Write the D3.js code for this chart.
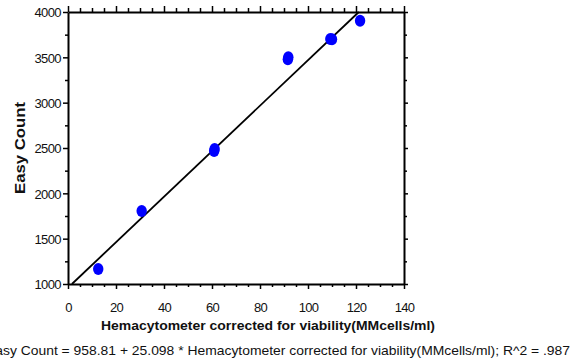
<!DOCTYPE html>
<html><head><meta charset="utf-8">
<script src="https://cdn.jsdelivr.net/npm/d3@7"></script>
<style>
body{margin:0;background:#fff;}
svg{display:block;font-family:"Liberation Sans",Arial,sans-serif;}
</style></head>
<body>
<svg id="c" width="579" height="362"></svg>
<script>
// Data
const xValues = [12.6, 30.7, 60.9, 61.1, 91.6, 91.8, 109.3, 110.0, 121.7];
const yValues = [1165, 1805, 2468, 2488, 3480, 3502, 3702, 3700, 3903];
const xTicks = [0, 20, 40, 60, 80, 100, 120, 140];
const yTicks = [1000, 1500, 2000, 2500, 3000, 3500, 4000];
const fitIntercept = 958.81, fitSlope = 25.098;
const xTitle = "Hemacytometer corrected for viability(MMcells/ml)";
const yTitle = "Easy Count";
const caption = "Easy Count = 958.81 + 25.098 * Hemacytometer corrected for viability(MMcells/ml); R^2 = .987";

const svg = d3.select("#c");
const L = 68, R = 404, T = 12, B = 284;
const x = d3.scaleLinear().domain([0, 140]).range([L, R]);
const y = d3.scaleLinear().domain([1000, 4000]).range([B, T]);

const minorX = d3.range(0, 141, 5).filter(v => v % 20 !== 0);
const minorY = d3.range(1000, 4001, 250).filter(v => v % 500 !== 0);

function styleAxis(g){
  g.selectAll("path.domain").attr("stroke", "#000").attr("stroke-width", 2);
  g.selectAll(".tick line").attr("stroke", "#000").attr("stroke-width", 1.5);
}
// bottom
const gb = svg.append("g").attr("transform", `translate(0,${B})`)
  .call(d3.axisBottom(x).tickValues(xTicks).tickSize(5).tickSizeOuter(0).tickFormat(d3.format("d")));
styleAxis(gb);
gb.selectAll(".tick text").attr("font-size", 13).attr("fill", "#111").attr("dy", 0).attr("y", 28).attr("letter-spacing", -0.8);
svg.append("g").attr("transform", `translate(0,${B})`)
  .call(d3.axisBottom(x).tickValues(minorX).tickSize(3).tickFormat(""))
  .call(g => { g.select(".domain").remove(); g.selectAll(".tick line").attr("stroke", "#000").attr("stroke-width", 1.5); });
// top
const gt = svg.append("g").attr("transform", `translate(0,${T})`)
  .call(d3.axisTop(x).tickValues(xTicks).tickSize(6).tickSizeOuter(0).tickFormat(""));
styleAxis(gt);
svg.append("g").attr("transform", `translate(0,${T})`)
  .call(d3.axisTop(x).tickValues(minorX).tickSize(4).tickFormat(""))
  .call(g => { g.select(".domain").remove(); g.selectAll(".tick line").attr("stroke", "#000").attr("stroke-width", 1.5); });
// left
const gl = svg.append("g").attr("transform", `translate(${L},0)`)
  .call(d3.axisLeft(y).tickValues(yTicks).tickSize(5).tickSizeOuter(0).tickFormat(d3.format("d")));
styleAxis(gl);
gl.selectAll(".tick text").attr("font-size", 13).attr("fill", "#111").attr("x", -7).attr("dy", "0.36em").attr("letter-spacing", -0.6);
svg.append("g").attr("transform", `translate(${L},0)`)
  .call(d3.axisLeft(y).tickValues(minorY).tickSize(3).tickFormat(""))
  .call(g => { g.select(".domain").remove(); g.selectAll(".tick line").attr("stroke", "#000").attr("stroke-width", 1.5); });
// right
const gr = svg.append("g").attr("transform", `translate(${R},0)`)
  .call(d3.axisRight(y).tickValues(yTicks).tickSize(4).tickSizeOuter(0).tickFormat(""));
styleAxis(gr);
svg.append("g").attr("transform", `translate(${R},0)`)
  .call(d3.axisRight(y).tickValues(minorY).tickSize(3).tickFormat(""))
  .call(g => { g.select(".domain").remove(); g.selectAll(".tick line").attr("stroke", "#000").attr("stroke-width", 1.5); });

// fit line clipped to domain
const f = v => fitIntercept + fitSlope * v;
const x0 = Math.max(0, (1000 - fitIntercept) / fitSlope);
const x1 = Math.min(140, (4000 - fitIntercept) / fitSlope);
svg.append("line")
  .attr("x1", x(x0)).attr("y1", y(f(x0)))
  .attr("x2", x(x1)).attr("y2", y(f(x1)))
  .attr("stroke", "#000").attr("stroke-width", 1.8);

// points
svg.append("g").selectAll("ellipse").data(xValues.map((v, i) => [v, yValues[i]]))
  .join("ellipse")
  .attr("cx", d => x(d[0])).attr("cy", d => y(d[1]))
  .attr("rx", 5.2).attr("ry", 6).attr("fill", "#0000ff");

// titles
svg.append("text").attr("x", 268).attr("y", 330).attr("text-anchor", "middle")
  .attr("font-size", 13.5).attr("font-weight", "bold").attr("fill", "#111")
  .attr("textLength", 334).attr("lengthAdjust", "spacingAndGlyphs").text(xTitle);
svg.append("text").attr("transform", `translate(25,${(T + B) / 2}) rotate(-90)`).attr("text-anchor", "middle")
  .attr("font-size", 14).attr("font-weight", "bold").attr("fill", "#111")
  .attr("textLength", 92).attr("lengthAdjust", "spacingAndGlyphs").text(yTitle);
svg.append("text").attr("x", 570).attr("y", 355).attr("text-anchor", "end")
  .attr("font-size", 13.5).attr("fill", "#111")
  .attr("textLength", 584).attr("lengthAdjust", "spacingAndGlyphs").text(caption);
</script>
</body></html>
